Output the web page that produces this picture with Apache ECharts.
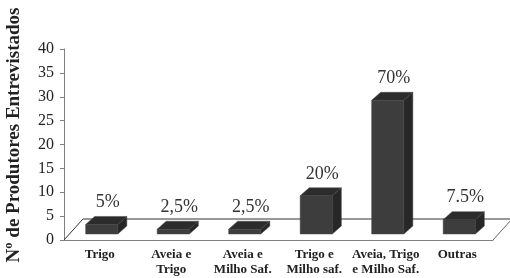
<!DOCTYPE html>
<html lang="pt">
<head>
    <meta charset="utf-8">
    <title>Produtores entrevistados</title>
    <script src="https://cdn.jsdelivr.net/npm/echarts@6/dist/echarts.min.js"></script>
    <style>
        html, body { margin: 0; padding: 0; background: #fff; }
        #main { width: 510px; height: 278px; }
    </style>
</head>
<body>
<div id="main"></div>
<script type="text/javascript">
    // dados
    var categorias = ['Trigo', 'Aveia e\nTrigo', 'Aveia e\nMilho Saf.', 'Trigo e\nMilho saf.', 'Aveia, Trigo\ne Milho Saf.', 'Outras'];
    var produtores = [2, 1, 1, 8, 28, 3];
    var rotulos = ['5%', '2,5%', '2,5%', '20%', '70%', '7.5%'];
    var ticksY = [0, 40, 5];

    var serif = '"Liberation Serif", "Times New Roman", serif';

    var myChart = echarts.init(document.getElementById('main'));

    // barra com efeito 3D (frente, topo, lado)
    function barra3d(params, api) {
        var i = api.value(0);
        var v = api.value(1);
        var base = api.coord([i, 0]);
        var topo = api.coord([i, v]);
        var band = api.size([1, 0])[0];
        var w = band * 0.45;
        var cx = base[0] + 2;
        var x0 = cx - w / 2, x1 = cx + w / 2;
        var yb = base[1] - 6, yt = topo[1] - 6;
        var dx = 9, dy = -8;
        return {
            type: 'group',
            children: [{
                type: 'rect',
                shape: {x: x0, y: yt, width: w, height: yb - yt},
                style: {fill: '#3d3d3d', stroke: '#4a4a4a', lineWidth: 0.5}
            }, {
                type: 'polygon',
                shape: {points: [[x0, yt], [x0 + dx, yt + dy], [x1 + dx, yt + dy], [x1, yt]]},
                style: {fill: '#2c2c2c', stroke: '#444', lineWidth: 0.5}
            }, {
                type: 'polygon',
                shape: {points: [[x1, yt], [x1 + dx, yt + dy], [x1 + dx, yb + dy], [x1, yb]]},
                style: {fill: '#272727', stroke: '#444', lineWidth: 0.5}
            }, {
                type: 'text',
                style: {
                    x: cx + 6, y: yt + dy - 5,
                    text: rotulos[i],
                    fill: '#333',
                    font: '18px ' + serif,
                    align: 'center',
                    verticalAlign: 'bottom'
                }
            }]
        };
    }

    // piso do grafico
    function piso(params, api) {
        var cs = params.coordSys;
        var fx = 19, fy = -21;
        var yf = cs.y + cs.height;
        var style = {stroke: '#333', lineWidth: 1, fill: null};
        return {
            type: 'group',
            children: [{
                type: 'polyline',
                shape: {points: [[cs.x, yf], [cs.x + fx, yf + fy], [cs.x + cs.width + fx, yf + fy]]},
                style: style
            }, {
                type: 'line',
                shape: {x1: cs.x + cs.width, y1: yf, x2: cs.x + cs.width + fx, y2: yf + fy},
                style: {stroke: '#666', lineWidth: 1}
            }]
        };
    }

    var dados = [];
    for (var i = 0; i < produtores.length; i++) {
        dados.push([i, produtores[i]]);
    }

    var option = {
        animation: false,
        grid: {left: 64, right: 17, top: 49, bottom: 38},
        xAxis: {
            type: 'category',
            data: categorias,
            axisLine: {lineStyle: {color: '#808080'}},
            axisTick: {length: 4, lineStyle: {color: '#808080'}},
            axisLabel: {
                interval: 0,
                margin: 7,
                color: '#222',
                fontFamily: serif,
                fontWeight: 'bold',
                fontSize: 13,
                lineHeight: 15
            }
        },
        yAxis: {
            type: 'value',
            min: ticksY[0],
            max: ticksY[1],
            interval: ticksY[2],
            axisLine: {show: true, lineStyle: {color: '#808080'}},
            axisTick: {show: true, length: 4, lineStyle: {color: '#808080'}},
            splitLine: {show: false},
            axisLabel: {margin: 10, color: '#222', fontFamily: serif, fontSize: 16}
        },
        graphic: [{
            type: 'text',
            x: 14, y: 135,
            rotation: Math.PI / 2,
            style: {
                text: 'Nº de Produtores Entrevistados',
                font: 'bold 19px ' + serif,
                fill: '#222',
                align: 'center',
                verticalAlign: 'middle'
            }
        }],
        series: [{
            type: 'custom',
            renderItem: piso,
            data: [[0, 0]],
            z: 1
        }, {
            type: 'custom',
            renderItem: barra3d,
            data: dados,
            encode: {x: 0, y: 1},
            z: 2
        }]
    };

    myChart.setOption(option);
</script>
</body>
</html>
